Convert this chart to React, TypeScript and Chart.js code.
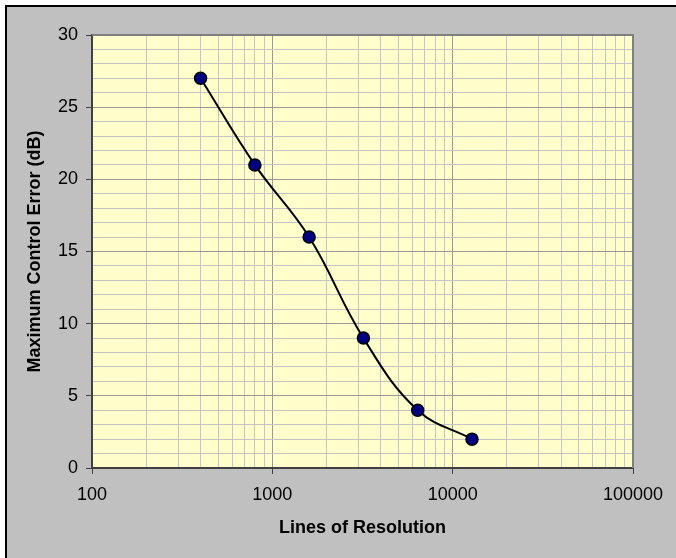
import React, { useEffect, useRef } from 'react';
import { Chart, registerables } from 'chart.js';

Chart.register(...registerables);

const resolutionLines = [400, 800, 1600, 3200, 6400, 12800];
const maxControlErrorDb = [27, 21, 16, 9, 4, 2];
const xDecades = [100, 1000, 10000, 100000];
const xSubSteps = [1, 2, 3, 4, 5, 6, 7, 8, 9];
const yMajorStep = 5;

const FONT = '"Liberation Sans", Arial, sans-serif';

const isDecade = (v: number) => {
  const l = Math.log10(v);
  return Math.abs(l - Math.round(l)) < 1e-9;
};

const backgroundPlugin = {
  id: 'bgPlugin',
  beforeDraw(chart: any) {
    const { ctx, width, height, chartArea } = chart;
    ctx.save();
    ctx.fillStyle = '#ffffff';
    ctx.fillRect(0, 0, width, height);
    ctx.fillStyle = '#c0c0c0';
    ctx.fillRect(5, 5, width - 5, height - 5);
    ctx.strokeStyle = '#000000';
    ctx.lineWidth = 2;
    ctx.beginPath();
    ctx.moveTo(6, height);
    ctx.lineTo(6, 6);
    ctx.lineTo(width, 6);
    ctx.stroke();
    ctx.fillStyle = '#ffffcc';
    ctx.fillRect(chartArea.left, chartArea.top, chartArea.right - chartArea.left, chartArea.bottom - chartArea.top);
    ctx.restore();
  },
  afterDraw(chart: any) {
    const { ctx, chartArea } = chart;
    ctx.save();
    ctx.strokeStyle = '#808080';
    ctx.lineWidth = 2;
    ctx.beginPath();
    ctx.moveTo(chartArea.left, chartArea.top);
    ctx.lineTo(chartArea.right, chartArea.top);
    ctx.lineTo(chartArea.right, chartArea.bottom);
    ctx.stroke();
    ctx.restore();
  },
};

export default function App() {
  const canvasRef = useRef<HTMLCanvasElement | null>(null);

  useEffect(() => {
    document.body.style.margin = '0';
    const canvas = canvasRef.current;
    if (!canvas) return;
    const xTicks: number[] = [];
    xDecades.forEach((d, i) => {
      if (i === xDecades.length - 1) {
        xTicks.push(d);
      } else {
        xSubSteps.forEach((s) => xTicks.push(d * s));
      }
    });

    const chart = new Chart(canvas, {
      type: 'line',
      data: {
        datasets: [
          {
            data: resolutionLines.map((x, i) => ({ x, y: maxControlErrorDb[i] })),
            borderColor: '#000000',
            borderWidth: 2,
            tension: 0.4,
            pointRadius: 6,
            pointBorderWidth: 1.5,
            pointBackgroundColor: '#000080',
            pointBorderColor: '#000000',
            fill: false,
          },
        ],
      },
      options: {
        responsive: false,
        animation: false,
        layout: { padding: { top: 35, right: 43, left: 0, bottom: 0 } },
        plugins: { legend: { display: false }, tooltip: { enabled: false } },
        scales: {
          x: {
            type: 'logarithmic',
            min: xDecades[0],
            max: xDecades[xDecades.length - 1],
            afterFit(scale: any) {
              scale.height = 90;
            },
            afterBuildTicks(scale: any) {
              scale.ticks = xTicks.map((v) => ({ value: v, major: isDecade(v) }));
            },
            grid: {
              color: (c: any) => (c.tick && isDecade(c.tick.value) ? '#999999' : '#c4c4c8'),
              tickColor: (c: any) => (c.tick && isDecade(c.tick.value) ? '#404040' : 'rgba(0,0,0,0)'),
              tickLength: 6,
              lineWidth: 1,
            },
            border: { color: '#404040', width: 2 },
            ticks: {
              autoSkip: false,
              maxRotation: 0,
              padding: 10,
              color: '#000000',
              font: { family: FONT, size: 18 },
              callback: (v: any) => (isDecade(Number(v)) ? String(v) : ''),
            },
            title: {
              display: true,
              text: 'Lines of Resolution',
              color: '#000000',
              font: { family: FONT, size: 18, weight: 'bold' },
              padding: { top: 0, bottom: 19 },
            },
          },
          y: {
            type: 'linear',
            min: 0,
            max: 30,
            afterFit(scale: any) {
              scale.width = 92;
            },
            grid: {
              color: (c: any) => (c.tick && c.tick.value % yMajorStep === 0 ? '#999999' : '#c4c4c8'),
              tickColor: (c: any) => (c.tick && c.tick.value % yMajorStep === 0 ? '#404040' : 'rgba(0,0,0,0)'),
              tickLength: 6,
              lineWidth: 1,
            },
            border: { color: '#404040', width: 2 },
            ticks: {
              stepSize: 1,
              autoSkip: false,
              padding: 8,
              color: '#000000',
              font: { family: FONT, size: 18 },
              callback: (v: any) => (Number(v) % yMajorStep === 0 ? String(v) : ''),
            },
            title: {
              display: true,
              text: 'Maximum Control Error (dB)',
              color: '#000000',
              font: { family: FONT, size: 18, weight: 'bold' },
              padding: { top: 24, bottom: 0 },
            },
          },
        },
      },
      plugins: [backgroundPlugin],
    } as any);
    return () => chart.destroy();
  }, []);

  return (
    <div style={{ width: 676, height: 558 }}>
      <canvas ref={canvasRef} width={676} height={558} style={{ display: 'block' }} />
    </div>
  );
}
